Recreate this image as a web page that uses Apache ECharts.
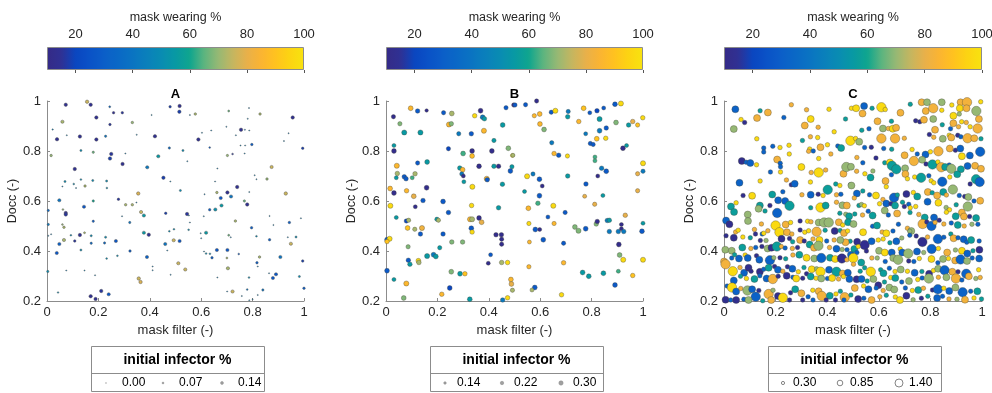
<!DOCTYPE html>
<html>
<head>
<meta charset="utf-8" />
<script src="https://cdn.jsdelivr.net/npm/echarts@6/dist/echarts.min.js"></script>
<style>
html, body, #main { width: 100%; height: 100%; margin: 0; background: #fff; }
</style>
</head>
<body>
<div id="main"></div>
<script>
// each point: [mask filter, Docc, mask wearing %, initial infector %]
var pointsA = [
[0.073,0.985,14,0.13],[0.156,0.997,76,0.13],[0.17,0.985,14,0.13],[0.244,0.977,35,0.05],[0.259,0.953,14,0.08],
[0.293,0.953,16,0.08],[0.192,0.934,14,0.13],[0.407,0.944,50,0.01],[0.479,0.977,18,0.08],[0.06,0.917,72,0.12],
[0.245,0.906,16,0.08],[0.332,0.914,70,0.08],[0.022,0.886,45,0.02],[0.039,0.847,14,0.13],[0.077,0.863,45,0.01],
[0.128,0.858,14,0.13],[0.192,0.846,14,0.13],[0.228,0.859,40,0.07],[0.349,0.865,45,0.01],[0.42,0.859,14,0.13],
[0.476,0.812,35,0.07],[0.016,0.782,70,0.08],[0.132,0.802,50,0.06],[0.18,0.795,66,0.07],[0.25,0.788,16,0.13],
[0.245,0.77,18,0.13],[0.305,0.79,45,0.01],[0.294,0.748,14,0.13],[0.433,0.779,55,0.12],[0.39,0.735,42,0.12],
[0.108,0.728,14,0.13],[0.453,0.693,18,0.13],[0.48,0.678,45,0.01],[0.07,0.678,50,0.06],[0.132,0.686,50,0.04],
[0.104,0.668,50,0.04],[0.113,0.652,45,0.01],[0.148,0.66,72,0.08],[0.178,0.682,50,0.06],[0.232,0.68,50,0.06],
[0.233,0.652,50,0.04],[0.06,0.658,45,0.01],[0.355,0.63,78,0.13],[0.048,0.603,40,0.12],[0.18,0.6,60,0.07],
[0.278,0.607,16,0.08],[0.306,0.585,72,0.08],[0.332,0.585,72,0.08],[0.348,0.594,45,0.01],[0.005,0.562,35,0.07],
[0.062,0.566,70,0.04],[0.073,0.552,14,0.13],[0.073,0.546,16,0.13],[0.144,0.577,27,0.12],[0.366,0.556,75,0.12],
[0.377,0.542,55,0.12],[0.292,0.539,45,0.01],[0.18,0.519,30,0.07],[0.462,0.551,18,0.08],[0.005,0.506,42,0.07],
[0.06,0.506,70,0.04],[0.066,0.495,72,0.08],[0.322,0.514,40,0.07],[0.016,0.467,45,0.01],[0.005,0.461,45,0.01],
[0.048,0.428,32,0.12],[0.066,0.444,72,0.12],[0.093,0.463,50,0.04],[0.108,0.44,16,0.08],[0.128,0.464,14,0.13],
[0.146,0.473,72,0.05],[0.172,0.461,50,0.06],[0.172,0.431,35,0.07],[0.228,0.455,50,0.06],[0.224,0.432,35,0.07],
[0.268,0.44,27,0.12],[0.377,0.473,55,0.12],[0.396,0.465,14,0.13],[0.476,0.479,50,0.04],[0.46,0.428,40,0.12],
[0.493,0.443,76,0.12],[0.038,0.392,27,0.12],[0.132,0.404,50,0.06],[0.323,0.4,30,0.08],[0.468,0.402,45,0.01],
[0.232,0.37,50,0.04],[0.274,0.381,50,0.04],[0.389,0.376,32,0.12],[0.003,0.318,50,0.07],[0.075,0.322,45,0.01],
[0.146,0.322,45,0.01],[0.187,0.303,45,0.01],[0.411,0.338,45,0.01],[0.411,0.323,45,0.01],[0.481,0.305,45,0.01],
[0.357,0.29,76,0.13],[0.364,0.276,78,0.13],[0.043,0.234,50,0.03],[0.17,0.219,14,0.13],[0.189,0.208,14,0.13],
[0.211,0.24,16,0.13],[0.24,0.227,27,0.12],
[0.516,0.98,14,0.13],[0.515,0.957,18,0.13],[0.556,0.944,45,0.01],[0.577,0.948,72,0.08],[0.707,0.96,66,0.05],
[0.786,0.972,45,0.01],[0.829,0.948,72,0.08],[0.956,0.934,14,0.13],[0.781,0.929,45,0.01],[0.698,0.897,45,0.01],
[0.603,0.873,45,0.01],[0.639,0.882,45,0.01],[0.755,0.885,14,0.13],[0.77,0.885,45,0.01],[0.787,0.882,45,0.01],
[0.735,0.863,45,0.01],[0.94,0.871,45,0.01],[0.589,0.846,14,0.13],[0.922,0.84,45,0.01],[0.995,0.811,18,0.08],
[0.633,0.814,30,0.04],[0.753,0.822,45,0.01],[0.771,0.822,45,0.01],[0.797,0.826,30,0.08],[0.529,0.802,50,0.06],
[0.702,0.782,70,0.07],[0.722,0.788,16,0.04],[0.769,0.79,45,0.01],[0.546,0.759,45,0.01],[0.874,0.736,76,0.12],
[0.663,0.73,45,0.01],[0.808,0.703,45,0.01],[0.815,0.687,45,0.01],[0.856,0.688,70,0.08],[0.654,0.678,45,0.01],
[0.74,0.656,14,0.13],[0.519,0.642,50,0.06],[0.613,0.627,45,0.01],[0.661,0.634,72,0.08],[0.702,0.634,14,0.13],
[0.716,0.618,40,0.12],[0.787,0.636,45,0.01],[0.929,0.63,76,0.13],[0.676,0.612,27,0.12],[0.768,0.6,66,0.07],
[0.779,0.586,14,0.13],[0.679,0.582,55,0.12],[0.633,0.565,30,0.08],[0.655,0.566,52,0.12],[0.545,0.548,16,0.13],
[0.552,0.542,45,0.01],[0.61,0.539,45,0.01],[0.866,0.54,45,0.01],[0.733,0.52,72,0.08],[0.943,0.514,30,0.08],
[0.988,0.531,45,0.01],[0.556,0.514,45,0.01],[0.881,0.504,45,0.01],[0.494,0.487,50,0.04],[0.551,0.485,50,0.04],
[0.796,0.493,30,0.08],[0.619,0.473,55,0.12],[0.598,0.471,45,0.01],[0.6,0.451,45,0.01],[0.707,0.463,66,0.05],
[0.715,0.455,45,0.01],[0.815,0.459,50,0.04],[0.866,0.445,30,0.08],[0.937,0.455,45,0.01],[0.969,0.456,50,0.06],
[0.949,0.429,76,0.12],[0.516,0.44,27,0.12],[0.611,0.398,45,0.01],[0.619,0.39,50,0.04],[0.634,0.389,50,0.04],
[0.661,0.404,27,0.12],[0.702,0.404,27,0.12],[0.642,0.373,30,0.08],[0.746,0.388,30,0.04],[0.7,0.372,72,0.05],
[0.511,0.351,76,0.12],[0.538,0.326,76,0.12],[0.827,0.376,72,0.08],[0.817,0.353,30,0.08],[0.82,0.338,45,0.01],
[0.908,0.376,40,0.12],[0.995,0.36,18,0.08],[0.704,0.331,72,0.12],[0.663,0.294,45,0.01],[0.786,0.294,50,0.04],
[0.864,0.311,45,0.01],[0.879,0.292,27,0.12],[0.891,0.307,27,0.12],[0.982,0.298,50,0.06],[0.701,0.238,45,0.01],
[0.722,0.238,76,0.12],[0.779,0.246,40,0.04],[0.84,0.244,40,0.07],[0.758,0.22,45,0.01],[0.8,0.207,45,0.01],
[0.787,0.203,45,0.01],[0.82,0.224,45,0.01],[1.0,0.251,30,0.08]
];

var pointsB = [
[0.029,0.937,12,0.22],[0.096,0.971,86,0.26],[0.123,0.96,28,0.24],[0.158,0.962,12,0.16],[0.224,0.953,28,0.22],
[0.256,0.95,72,0.26],[0.054,0.909,68,0.22],[0.071,0.874,55,0.28],[0.134,0.874,55,0.28],[0.245,0.906,86,0.28],
[0.254,0.909,68,0.24],[0.283,0.869,42,0.22],[0.332,0.869,28,0.24],[0.368,0.961,12,0.26],[0.345,0.941,97,0.24],
[0.376,0.935,42,0.26],[0.383,0.929,55,0.24],[0.381,0.881,86,0.28],[0.42,0.842,55,0.22],[0.454,0.904,55,0.26],
[0.467,0.973,28,0.22],[0.497,0.984,12,0.22],[0.031,0.822,55,0.2],[0.031,0.8,12,0.26],[0.123,0.752,28,0.22],
[0.16,0.756,55,0.26],[0.243,0.809,20,0.22],[0.3,0.79,63,0.26],[0.335,0.8,12,0.26],[0.335,0.78,88,0.26],
[0.412,0.8,12,0.26],[0.476,0.811,68,0.26],[0.492,0.782,97,0.2],[0.042,0.741,86,0.28],[0.044,0.71,72,0.24],
[0.04,0.693,55,0.2],[0.071,0.697,28,0.24],[0.078,0.689,28,0.24],[0.102,0.693,63,0.2],[0.113,0.709,72,0.24],
[0.287,0.732,55,0.24],[0.298,0.725,86,0.26],[0.295,0.708,42,0.22],[0.301,0.7,12,0.2],[0.303,0.677,55,0.2],
[0.362,0.739,12,0.26],[0.392,0.689,86,0.28],[0.394,0.685,28,0.24],[0.42,0.739,55,0.24],[0.438,0.739,12,0.24],
[0.49,0.737,55,0.22],[0.484,0.72,28,0.26],[0.453,0.667,55,0.24],[0.016,0.65,86,0.26],[0.031,0.632,12,0.26],
[0.08,0.641,86,0.24],[0.108,0.619,80,0.26],[0.158,0.653,12,0.26],[0.336,0.657,97,0.28],[0.144,0.602,28,0.24],
[0.114,0.577,12,0.2],[0.222,0.598,28,0.26],[0.017,0.581,97,0.28],[0.04,0.534,55,0.2],[0.243,0.554,28,0.24],
[0.333,0.582,97,0.24],[0.438,0.573,55,0.24],[0.079,0.52,20,0.22],[0.088,0.523,72,0.22],[0.084,0.492,90,0.26],
[0.112,0.487,72,0.22],[0.14,0.492,82,0.28],[0.134,0.468,28,0.24],[0.198,0.527,55,0.22],[0.204,0.523,72,0.22],
[0.222,0.468,28,0.24],[0.327,0.527,86,0.28],[0.335,0.527,72,0.28],[0.332,0.491,28,0.26],[0.335,0.476,97,0.24],
[0.362,0.532,12,0.26],[0.372,0.515,80,0.26],[0.004,0.445,28,0.26],[0.014,0.449,97,0.28],[0.004,0.438,90,0.24],
[0.256,0.436,68,0.24],[0.298,0.436,68,0.24],[0.428,0.465,12,0.24],[0.449,0.465,12,0.24],[0.45,0.447,12,0.22],
[0.45,0.427,12,0.22],[0.086,0.417,68,0.22],[0.209,0.413,55,0.22],[0.087,0.363,28,0.24],[0.093,0.347,55,0.24],
[0.126,0.361,97,0.26],[0.128,0.354,72,0.24],[0.16,0.38,55,0.28],[0.185,0.385,42,0.26],[0.194,0.378,55,0.26],
[0.407,0.385,28,0.2],[0.398,0.351,12,0.2],[0.45,0.354,72,0.24],[0.473,0.354,97,0.24],[0.004,0.321,28,0.26],
[0.031,0.286,55,0.2],[0.079,0.27,86,0.28],[0.254,0.317,68,0.26],[0.288,0.309,55,0.26],[0.307,0.309,90,0.24],
[0.248,0.252,20,0.26],[0.217,0.227,86,0.24],[0.069,0.212,68,0.26],[0.326,0.207,55,0.26],[0.454,0.204,42,0.24],
[0.473,0.213,97,0.24],[0.486,0.286,86,0.26],[0.488,0.268,80,0.26],[0.492,0.243,72,0.22],
[0.502,0.984,28,0.22],[0.543,0.985,28,0.22],[0.586,1.0,12,0.22],[0.891,0.987,28,0.26],[0.914,0.99,97,0.28],
[0.577,0.941,86,0.22],[0.598,0.948,86,0.26],[0.643,0.955,28,0.22],[0.659,0.961,97,0.28],[0.709,0.958,42,0.22],
[0.707,0.937,55,0.24],[0.769,0.971,90,0.26],[0.793,0.953,28,0.2],[0.821,0.961,20,0.24],[0.847,0.972,28,0.2],
[0.599,0.908,86,0.26],[0.615,0.886,68,0.26],[0.75,0.918,86,0.24],[0.831,0.928,55,0.28],[0.895,0.914,68,0.26],
[0.944,0.904,55,0.24],[0.96,0.918,80,0.24],[0.979,0.904,90,0.22],[0.999,0.933,97,0.24],[0.777,0.869,42,0.2],
[0.831,0.881,42,0.26],[0.857,0.892,28,0.24],[0.82,0.849,90,0.26],[0.855,0.851,97,0.24],[0.645,0.833,42,0.22],
[0.795,0.83,28,0.22],[0.806,0.826,28,0.22],[0.922,0.811,12,0.26],[0.936,0.822,55,0.2],[0.494,0.783,72,0.2],
[0.654,0.79,86,0.24],[0.672,0.783,28,0.24],[0.706,0.78,97,0.22],[0.813,0.776,63,0.2],[0.813,0.761,63,0.2],
[1.0,0.751,97,0.28],[0.839,0.731,42,0.24],[0.857,0.719,28,0.26],[1.0,0.719,42,0.22],[0.572,0.708,42,0.22],
[0.549,0.699,97,0.28],[0.597,0.687,28,0.26],[0.707,0.7,55,0.24],[0.824,0.7,12,0.2],[0.979,0.709,80,0.22],
[0.608,0.66,12,0.2],[0.778,0.668,28,0.24],[0.539,0.638,55,0.2],[0.597,0.621,28,0.26],[0.773,0.619,80,0.2],
[0.844,0.622,55,0.2],[0.979,0.641,80,0.22],[0.591,0.591,63,0.24],[0.554,0.571,86,0.26],[0.651,0.581,97,0.28],
[0.697,0.554,28,0.22],[0.812,0.587,80,0.22],[0.63,0.536,28,0.2],[0.931,0.543,80,0.24],[0.556,0.51,97,0.22],
[0.581,0.486,28,0.26],[0.598,0.486,12,0.2],[0.654,0.51,86,0.22],[0.735,0.496,68,0.26],[0.749,0.481,68,0.28],
[0.777,0.489,28,0.26],[0.818,0.508,68,0.24],[0.822,0.518,12,0.24],[0.861,0.522,42,0.24],[0.869,0.523,55,0.24],
[0.869,0.478,42,0.24],[0.904,0.478,42,0.24],[0.916,0.506,12,0.2],[0.916,0.489,12,0.2],[0.925,0.478,42,0.24],
[0.996,0.479,28,0.26],[1.0,0.511,55,0.2],[0.612,0.445,28,0.26],[0.558,0.436,86,0.2],[0.691,0.431,28,0.22],
[0.906,0.426,12,0.26],[0.909,0.384,68,0.26],[0.923,0.365,97,0.28],[1.0,0.365,97,0.28],[0.691,0.353,86,0.24],
[0.556,0.337,86,0.22],[0.765,0.314,55,0.26],[0.789,0.299,55,0.26],[0.846,0.311,55,0.26],[0.904,0.319,63,0.2],
[0.96,0.302,90,0.24],[0.891,0.264,28,0.26],[0.579,0.254,28,0.26],[0.568,0.244,72,0.2],[0.683,0.225,97,0.24]
];

var pointsC = [
[0.044,0.967,32,0.85],[0.14,0.961,57,0.4],[0.17,0.954,83,0.85],[0.261,0.985,83,0.4],[0.32,0.965,83,0.4],
[0.407,0.967,97,0.4],[0.494,0.971,97,0.4],[0.066,0.926,97,0.4],[0.08,0.914,13,0.4],[0.128,0.932,83,0.85],
[0.232,0.934,32,0.4],[0.336,0.928,97,0.85],[0.471,0.928,57,0.4],[0.038,0.888,70,0.85],[0.313,0.902,83,0.85],
[0.365,0.895,83,0.4],[0.427,0.877,97,0.4],[0.127,0.849,97,0.4],[0.304,0.842,57,0.4],[0.335,0.857,83,0.4],
[0.363,0.854,97,0.4],[0.49,0.841,97,1.3],[0.154,0.812,32,0.4],[0.189,0.819,32,0.4],[0.217,0.814,97,0.4],
[0.252,0.823,97,0.4],[0.332,0.808,97,0.4],[0.374,0.815,83,0.85],[0.401,0.825,97,0.4],[0.441,0.82,32,0.4],
[0.454,0.812,57,0.85],[0.154,0.796,32,0.4],[0.253,0.788,97,0.4],[0.328,0.799,83,0.4],[0.346,0.8,32,0.4],
[0.414,0.788,83,0.4],[0.367,0.77,97,0.4],[0.069,0.76,13,0.85],[0.086,0.755,32,0.4],[0.102,0.752,32,0.85],
[0.126,0.745,97,0.4],[0.206,0.766,83,0.85],[0.218,0.751,32,0.4],[0.219,0.737,32,0.4],[0.219,0.716,97,0.4],
[0.3,0.736,97,0.85],[0.18,0.716,32,0.4],[0.14,0.68,97,0.4],[0.06,0.673,32,0.85],[0.367,0.714,97,1.3],
[0.338,0.714,83,0.4],[0.394,0.724,83,0.4],[0.463,0.709,83,0.85],[0.474,0.736,70,1.3],[0.492,0.737,70,0.85],
[0.242,0.684,83,0.4],[0.261,0.665,13,0.4],[0.274,0.669,32,0.85],[0.335,0.676,97,0.4],[0.433,0.668,57,0.4],
[0.449,0.662,97,0.4],[0.49,0.665,32,0.4],[0.402,0.645,57,1.3],[0.384,0.622,97,0.4],[0.365,0.627,13,0.4],
[0.109,0.621,97,0.85],[0.187,0.626,57,0.85],[0.228,0.637,32,0.4],[0.302,0.625,83,0.4],[0.336,0.625,32,0.85],
[0.436,0.625,83,0.4],[0.453,0.627,32,0.4],[0.074,0.622,13,0.4],[0.047,0.593,97,0.4],[0.027,0.578,57,0.85],
[0.039,0.556,57,0.85],[0.139,0.582,57,0.85],[0.134,0.569,70,0.85],[0.178,0.582,13,0.4],[0.21,0.603,32,0.85],
[0.237,0.6,32,0.85],[0.254,0.581,57,1.3],[0.206,0.552,32,1.3],[0.159,0.56,57,0.4],[0.092,0.546,70,0.85],
[0.336,0.573,57,0.4],[0.374,0.574,97,1.3],[0.394,0.582,57,0.85],[0.436,0.595,83,0.4],[0.459,0.583,70,0.85],
[0.476,0.582,83,0.85],[0.449,0.551,57,0.4],[0.472,0.547,70,0.4],[0.485,0.539,57,0.85],[0.008,0.522,32,0.85],
[0.021,0.507,13,0.85],[0.093,0.52,70,0.85],[0.145,0.508,83,0.4],[0.118,0.486,83,0.4],[0.2,0.502,97,1.3],
[0.239,0.506,83,0.85],[0.258,0.514,97,0.4],[0.295,0.52,13,0.4],[0.324,0.519,97,0.4],[0.337,0.517,83,0.4],
[0.367,0.514,70,0.85],[0.388,0.514,70,1.3],[0.406,0.514,70,1.3],[0.445,0.515,83,0.85],[0.46,0.504,97,0.4],
[0.481,0.515,57,0.85],[0.045,0.476,83,0.4],[0.055,0.483,97,0.4],[0.038,0.453,13,0.85],[0.008,0.461,13,0.4],
[0.073,0.456,97,0.4],[0.102,0.453,57,0.4],[0.122,0.468,13,0.4],[0.148,0.468,32,0.4],[0.154,0.471,97,0.4],
[0.17,0.481,83,0.4],[0.215,0.475,97,1.3],[0.244,0.475,83,0.85],[0.263,0.468,83,0.4],[0.295,0.484,13,0.4],
[0.313,0.475,97,0.4],[0.328,0.481,97,0.4],[0.359,0.477,83,1.3],[0.392,0.483,57,0.4],[0.429,0.48,13,0.85],
[0.45,0.482,57,0.4],[0.465,0.472,83,0.85],[0.479,0.48,97,0.4],[0.489,0.439,57,0.4],[0.471,0.435,83,0.85],
[0.141,0.442,13,0.4],[0.163,0.442,70,0.4],[0.223,0.449,13,0.85],[0.254,0.45,13,0.4],[0.266,0.437,57,0.4],
[0.295,0.444,83,0.85],[0.311,0.44,13,0.4],[0.345,0.448,83,0.4],[0.37,0.444,97,0.85],[0.398,0.44,32,0.4],
[0.427,0.444,83,0.4],[0.451,0.444,70,0.85],[0.005,0.405,70,0.85],[0.03,0.401,70,0.85],[0.071,0.414,57,0.85],
[0.104,0.41,83,0.4],[0.123,0.414,32,0.4],[0.147,0.418,13,0.4],[0.169,0.41,70,0.85],[0.184,0.413,13,0.85],
[0.205,0.418,57,1.3],[0.222,0.418,83,0.4],[0.237,0.412,32,0.4],[0.265,0.41,83,0.4],[0.285,0.414,13,0.4],
[0.332,0.426,57,0.85],[0.349,0.413,83,0.85],[0.366,0.421,70,1.3],[0.409,0.414,83,0.4],[0.436,0.409,32,0.85],
[0.458,0.406,70,0.4],[0.477,0.405,32,0.4],[0.03,0.372,32,0.4],[0.041,0.385,57,0.4],[0.0,0.358,83,0.85],
[0.006,0.347,83,1.3],[0.058,0.37,32,0.85],[0.082,0.384,97,0.4],[0.092,0.372,32,0.85],[0.126,0.381,13,0.4],
[0.137,0.365,32,0.85],[0.178,0.363,32,1.3],[0.193,0.373,70,0.4],[0.217,0.373,13,0.4],[0.239,0.369,57,0.4],
[0.267,0.384,83,0.4],[0.292,0.385,57,0.85],[0.32,0.373,97,0.85],[0.35,0.37,70,0.85],[0.377,0.372,32,1.3],
[0.411,0.373,57,0.85],[0.431,0.368,97,0.85],[0.457,0.37,13,1.3],[0.476,0.365,83,0.4],[0.492,0.385,32,0.85],
[0.034,0.319,97,1.3],[0.062,0.334,83,0.4],[0.078,0.313,32,0.85],[0.095,0.333,13,0.85],[0.105,0.319,13,0.4],
[0.139,0.317,13,0.85],[0.154,0.327,32,0.4],[0.173,0.333,57,0.85],[0.196,0.338,13,0.4],[0.209,0.325,32,0.85],
[0.228,0.319,83,0.4],[0.246,0.337,13,0.4],[0.265,0.329,32,0.85],[0.288,0.317,97,0.4],[0.31,0.334,57,0.4],
[0.32,0.309,13,0.4],[0.34,0.327,97,0.85],[0.359,0.329,70,0.4],[0.374,0.317,97,1.3],[0.407,0.325,32,0.85],
[0.436,0.317,57,1.3],[0.46,0.31,83,0.85],[0.48,0.313,32,0.85],[0.038,0.282,32,0.85],[0.064,0.299,57,0.4],
[0.087,0.29,97,0.4],[0.118,0.288,57,0.85],[0.139,0.301,32,0.4],[0.165,0.29,32,0.85],[0.189,0.288,83,1.3],
[0.21,0.299,13,0.4],[0.243,0.301,13,0.85],[0.267,0.295,32,0.4],[0.28,0.29,97,0.85],[0.305,0.291,13,0.4],
[0.336,0.298,57,0.85],[0.357,0.291,97,0.4],[0.377,0.29,70,0.85],[0.401,0.29,32,0.4],[0.419,0.292,97,0.85],
[0.444,0.288,83,0.4],[0.463,0.298,97,0.4],[0.486,0.288,32,0.85],[0.012,0.26,32,0.4],[0.031,0.254,97,1.3],
[0.047,0.238,32,0.85],[0.065,0.25,83,0.4],[0.091,0.242,70,1.3],[0.109,0.247,32,0.85],[0.123,0.217,32,1.3],
[0.135,0.242,13,0.4],[0.173,0.228,83,1.3],[0.19,0.243,70,0.4],[0.209,0.22,13,0.85],[0.228,0.213,97,1.3],
[0.258,0.233,13,0.4],[0.276,0.247,57,0.85],[0.3,0.231,83,0.85],[0.326,0.217,32,0.4],[0.344,0.243,97,0.4],
[0.367,0.239,83,0.85],[0.379,0.22,83,1.3],[0.41,0.221,57,0.85],[0.434,0.228,97,0.4],[0.451,0.239,57,0.4],
[0.468,0.215,83,1.3],[0.492,0.224,57,0.4],[0.006,0.205,13,0.85],[0.026,0.204,32,0.4],[0.047,0.204,13,0.85],
[0.077,0.207,32,0.4],[0.095,0.204,70,0.85],[0.15,0.201,57,0.4],[0.183,0.204,83,0.85],[0.254,0.204,13,0.4],
[0.305,0.204,13,0.4],[0.345,0.204,32,0.4],[0.396,0.204,13,0.4],[0.432,0.204,13,0.4],[0.465,0.204,32,0.4],
[0.512,0.971,97,0.85],[0.543,0.98,32,0.85],[0.574,0.971,57,0.4],[0.61,0.975,97,1.3],[0.625,0.966,97,0.4],
[0.537,0.95,83,0.85],[0.595,0.919,83,0.85],[0.649,0.919,57,0.4],[0.684,0.953,83,0.85],[0.722,0.987,57,0.4],
[0.766,0.995,83,0.85],[0.787,0.995,70,0.85],[0.782,0.96,83,0.85],[0.811,0.971,83,1.3],[0.844,0.995,70,0.85],
[0.844,0.963,97,0.4],[0.883,0.984,97,0.4],[0.917,0.995,83,0.85],[0.942,0.995,83,1.3],[0.995,0.997,97,0.4],
[0.914,0.971,97,0.85],[0.94,0.971,83,0.85],[0.912,0.948,70,0.4],[0.889,0.941,97,0.85],[0.978,0.96,70,1.3],
[0.743,0.921,13,0.4],[0.759,0.917,13,0.4],[0.775,0.925,83,0.85],[0.811,0.928,70,0.85],[0.846,0.905,57,0.4],
[0.818,0.885,83,0.85],[0.878,0.889,32,0.4],[0.889,0.911,83,0.85],[0.921,0.917,97,0.4],[0.939,0.914,83,0.4],
[0.988,0.928,83,0.85],[0.983,0.89,83,1.3],[0.954,0.897,97,0.4],[0.909,0.897,83,0.4],[0.534,0.883,57,0.4],
[0.562,0.889,32,0.4],[0.616,0.89,70,0.85],[0.637,0.89,83,0.4],[0.654,0.889,97,0.85],[0.667,0.893,83,0.85],
[0.51,0.85,97,0.4],[0.524,0.837,70,0.85],[0.545,0.814,32,0.4],[0.571,0.815,13,0.4],[0.61,0.85,83,1.3],
[0.663,0.85,83,1.3],[0.699,0.851,83,0.4],[0.796,0.866,13,0.4],[0.813,0.855,83,0.4],[0.848,0.849,70,0.85],
[0.873,0.863,97,0.4],[0.881,0.854,83,0.85],[0.906,0.863,13,0.4],[0.918,0.857,32,0.4],[0.944,0.851,83,1.3],
[0.97,0.851,83,0.85],[0.996,0.849,57,0.4],[0.619,0.81,32,0.4],[0.65,0.807,57,0.4],[0.7,0.783,83,0.85],
[0.729,0.806,97,0.4],[0.749,0.788,32,0.4],[0.781,0.786,32,0.85],[0.8,0.797,97,0.4],[0.831,0.799,83,1.3],
[0.875,0.81,83,0.85],[0.897,0.803,13,0.4],[0.916,0.81,32,0.85],[0.922,0.779,97,0.85],[0.953,0.782,32,0.85],
[0.993,0.797,32,1.3],[0.515,0.774,83,0.4],[0.538,0.753,32,0.4],[0.589,0.772,13,0.4],[0.623,0.753,57,0.4],
[0.643,0.754,97,0.85],[0.651,0.741,57,1.3],[0.668,0.727,57,1.3],[0.702,0.731,70,0.85],[0.736,0.76,83,1.3],
[0.768,0.765,70,0.85],[0.783,0.748,13,0.4],[0.808,0.746,57,1.3],[0.829,0.756,97,0.4],[0.873,0.744,32,0.4],
[0.842,0.735,83,1.3],[0.857,0.736,57,0.85],[0.881,0.729,70,1.3],[0.918,0.727,57,0.85],[0.944,0.74,32,0.85],
[0.973,0.741,83,0.85],[0.996,0.729,83,0.85],[0.514,0.719,83,0.4],[0.546,0.709,97,0.4],[0.568,0.694,57,0.85],
[0.577,0.72,70,0.4],[0.626,0.68,83,0.85],[0.649,0.705,32,0.4],[0.703,0.708,83,0.85],[0.711,0.689,97,0.4],
[0.739,0.696,97,0.4],[0.764,0.693,57,1.3],[0.794,0.701,32,0.4],[0.803,0.681,97,0.4],[0.813,0.673,97,0.4],
[0.846,0.677,32,1.3],[0.875,0.696,97,0.4],[0.904,0.707,57,0.85],[0.954,0.668,13,0.4],[0.977,0.687,57,1.3],
[0.991,0.676,32,1.3],[0.494,0.662,70,0.85],[0.515,0.63,32,0.85],[0.538,0.64,57,0.4],[0.564,0.625,32,0.4],
[0.589,0.622,97,0.85],[0.629,0.657,97,0.4],[0.659,0.613,32,1.3],[0.672,0.624,57,0.4],[0.707,0.628,13,0.85],
[0.734,0.634,97,0.4],[0.749,0.618,57,0.85],[0.79,0.636,83,0.85],[0.807,0.633,57,0.4],[0.826,0.622,83,0.85],
[0.85,0.636,57,0.85],[0.862,0.624,83,0.4],[0.887,0.646,70,1.3],[0.912,0.622,32,0.4],[0.933,0.618,13,0.4],
[0.947,0.616,70,0.85],[0.969,0.6,32,0.4],[0.993,0.601,83,0.85],[0.505,0.612,83,0.4],[0.523,0.582,57,0.4],
[0.533,0.586,70,0.4],[0.544,0.581,97,0.4],[0.603,0.589,97,0.4],[0.616,0.606,83,0.4],[0.629,0.59,32,0.85],
[0.647,0.589,13,0.4],[0.663,0.582,57,0.85],[0.692,0.595,57,0.4],[0.716,0.587,32,0.4],[0.722,0.573,97,0.4],
[0.743,0.578,97,0.4],[0.789,0.597,32,0.85],[0.831,0.593,97,0.85],[0.861,0.574,70,0.4],[0.874,0.565,97,0.4],
[0.9,0.585,57,0.4],[0.922,0.554,83,0.85],[0.945,0.578,70,1.3],[0.507,0.548,57,0.4],[0.537,0.544,83,0.4],
[0.559,0.559,32,0.4],[0.576,0.542,57,0.85],[0.623,0.562,70,0.85],[0.637,0.544,32,0.4],[0.671,0.55,83,0.85],
[0.699,0.578,13,0.4],[0.721,0.554,57,0.4],[0.755,0.546,83,0.4],[0.778,0.534,57,0.85],[0.814,0.534,32,0.85],
[0.834,0.523,13,0.4],[0.862,0.555,97,0.4],[0.898,0.539,57,0.85],[0.93,0.538,83,0.85],[0.952,0.538,13,0.4],
[0.977,0.532,57,0.85],[0.502,0.508,70,0.85],[0.539,0.475,97,0.85],[0.576,0.499,32,0.4],[0.593,0.502,57,0.85],
[0.613,0.476,83,0.4],[0.629,0.471,97,0.85],[0.655,0.48,32,0.4],[0.676,0.507,32,0.4],[0.711,0.491,83,0.4],
[0.726,0.48,70,0.85],[0.77,0.508,83,1.3],[0.786,0.516,13,0.4],[0.804,0.5,32,1.3],[0.818,0.514,83,0.4],
[0.852,0.508,83,0.4],[0.881,0.512,32,0.4],[0.906,0.504,57,0.85],[0.931,0.5,83,0.4],[0.961,0.507,70,0.4],
[0.984,0.507,32,0.4],[0.516,0.437,13,0.85],[0.545,0.424,13,1.3],[0.572,0.439,32,0.85],[0.598,0.444,97,0.4],
[0.617,0.448,97,0.4],[0.643,0.433,57,0.4],[0.668,0.439,32,0.85],[0.689,0.452,70,0.4],[0.72,0.479,70,0.4],
[0.72,0.463,32,0.4],[0.745,0.46,13,0.4],[0.769,0.436,13,1.3],[0.789,0.456,83,0.4],[0.829,0.448,32,1.3],
[0.852,0.455,32,0.4],[0.879,0.468,57,0.4],[0.89,0.451,83,0.85],[0.907,0.453,32,0.4],[0.929,0.447,32,0.85],
[0.941,0.435,32,0.4],[0.958,0.444,57,0.85],[0.989,0.44,32,0.4],[0.505,0.408,57,0.85],[0.515,0.394,32,0.4],
[0.52,0.418,97,0.4],[0.552,0.4,13,0.4],[0.601,0.401,70,0.85],[0.623,0.394,97,0.85],[0.65,0.394,32,0.85],
[0.683,0.408,97,0.4],[0.691,0.394,32,0.85],[0.714,0.39,70,1.3],[0.748,0.398,32,0.85],[0.774,0.394,70,0.4],
[0.805,0.408,32,1.3],[0.831,0.41,97,0.4],[0.865,0.394,83,0.85],[0.897,0.404,70,0.4],[0.922,0.401,97,0.85],
[0.943,0.39,32,0.85],[0.965,0.401,57,0.4],[0.99,0.405,13,0.85],[0.501,0.372,97,1.3],[0.532,0.354,57,0.85],
[0.573,0.372,83,0.4],[0.594,0.372,70,0.4],[0.625,0.358,32,0.4],[0.656,0.372,70,0.85],[0.675,0.365,70,1.3],
[0.716,0.36,13,0.4],[0.736,0.358,32,0.4],[0.757,0.37,97,0.4],[0.804,0.368,97,0.85],[0.829,0.353,32,0.4],
[0.849,0.368,70,0.85],[0.87,0.37,97,0.4],[0.896,0.362,83,0.85],[0.917,0.366,32,1.3],[0.942,0.36,70,0.85],
[0.962,0.372,32,0.4],[0.989,0.37,32,0.85],[0.502,0.347,83,0.4],[0.528,0.319,57,0.4],[0.545,0.333,57,0.4],
[0.569,0.317,97,1.3],[0.607,0.325,57,0.4],[0.618,0.311,57,0.85],[0.641,0.331,32,0.4],[0.663,0.318,97,0.4],
[0.685,0.326,70,0.85],[0.711,0.319,97,0.4],[0.739,0.313,32,0.85],[0.767,0.318,57,0.4],[0.795,0.309,13,0.85],
[0.812,0.322,97,0.4],[0.83,0.329,70,0.85],[0.855,0.323,32,1.3],[0.885,0.317,83,0.85],[0.907,0.317,13,0.4],
[0.939,0.309,32,1.3],[0.987,0.325,97,0.4],[0.514,0.287,13,0.85],[0.533,0.288,32,0.85],[0.555,0.28,57,0.4],
[0.579,0.288,70,0.85],[0.598,0.263,13,0.85],[0.622,0.276,57,0.4],[0.646,0.294,97,0.4],[0.664,0.292,57,0.85],
[0.689,0.276,32,0.4],[0.717,0.28,70,0.85],[0.751,0.286,97,0.4],[0.768,0.292,32,0.4],[0.794,0.29,70,1.3],
[0.831,0.295,83,0.4],[0.862,0.295,70,0.85],[0.899,0.29,83,1.3],[0.922,0.284,32,0.4],[0.949,0.299,83,0.85],
[0.976,0.29,70,0.4],[0.993,0.294,83,0.4],[0.507,0.252,83,0.85],[0.541,0.26,97,0.4],[0.56,0.247,32,0.85],
[0.59,0.252,32,0.4],[0.617,0.242,83,0.4],[0.641,0.254,70,0.85],[0.66,0.246,70,0.85],[0.703,0.252,32,0.4],
[0.73,0.242,97,0.4],[0.753,0.244,57,0.85],[0.773,0.251,83,0.4],[0.808,0.244,13,0.4],[0.829,0.247,32,1.3],
[0.852,0.251,97,0.4],[0.873,0.24,32,0.85],[0.897,0.254,70,0.85],[0.925,0.235,32,1.3],[0.956,0.239,32,0.4],
[0.982,0.239,57,0.85],[0.52,0.208,13,0.85],[0.542,0.211,32,0.4],[0.572,0.204,83,0.85],[0.604,0.217,83,0.4],
[0.629,0.223,57,0.4],[0.664,0.216,97,0.4],[0.682,0.204,97,0.85],[0.707,0.221,13,0.85],[0.733,0.205,70,0.4],
[0.765,0.211,13,0.4],[0.79,0.219,57,0.4],[0.826,0.212,32,0.85],[0.847,0.219,32,0.4],[0.872,0.208,83,0.4],
[0.903,0.207,70,0.4],[0.934,0.205,83,0.85],[0.969,0.212,97,0.4],[0.998,0.208,57,0.4]
];

var panelNames = ['A', 'B', 'C'];
var legendValues = [[0.00, 0.07, 0.14], [0.14, 0.22, 0.30], [0.30, 0.85, 1.40]];
var wearingTicks = [20, 40, 60, 80, 100];

var FONT = '"Liberation Sans", Arial, sans-serif';
var parula = ['#352a87','#2f3193','#0a46c0','#0a52c7','#0b5ec8','#0a69c6','#0a74c2','#0a80bb','#098cb2','#0899a3',
              '#0fa58e','#5cb47f','#96b874','#c4b660','#e8b04a','#fbb432','#ffc21f','#fcd412','#f8e30f'];

function sizeA(s) { return 1.0 + 2.6 * s / 0.14; }
function sizeB(s) { return 3.2 + 2.2 * (s - 0.14) / 0.16; }
function sizeC(s) { return 4 + 6 * (s - 0.3) / 1.1; }
var sizeFns = [sizeA, sizeB, sizeC];
var edgeStyles = [
  { borderColor: 'rgba(80,80,80,0.75)', borderWidth: 0.6 },
  { borderColor: 'rgba(70,70,60,0.6)', borderWidth: 0.6 },
  { borderColor: 'rgba(70,70,60,0.6)', borderWidth: 0.6 }
];

var gridLefts = [47, 386, 724];
var gridWidths = [257, 257, 258];
var plotTop = 101, plotH = 200;

var chart = echarts.init(document.getElementById('main'));

var grids = [], xAxes = [], yAxes = [], series = [], visualMaps = [], graphics = [];
var allPoints = [pointsA, pointsB, pointsC];

for (var i = 0; i < 3; i++) {
  var L = gridLefts[i], W = gridWidths[i];
  grids.push({ left: L, top: plotTop, width: W, height: plotH, outerBoundsMode: 'none' });
  xAxes.push({
    type: 'value', gridIndex: i, min: 0, max: 1, interval: 0.2,
    name: 'mask filter (-)', nameLocation: 'middle', nameGap: 19,
    nameTextStyle: { color: '#262626', fontSize: 13, fontFamily: FONT },
    axisLine: { lineStyle: { color: '#8c8c8c', width: 1 } },
    axisTick: { inside: true, length: 3, lineStyle: { color: '#8c8c8c' } },
    axisLabel: { color: '#262626', fontSize: 13, fontFamily: FONT, margin: 5 },
    splitLine: { show: false }
  });
  yAxes.push({
    type: 'value', gridIndex: i, min: 0.2, max: 1, interval: 0.2,
    name: 'Docc (-)', nameLocation: 'middle', nameGap: 28,
    nameTextStyle: { color: '#262626', fontSize: 12.5, fontFamily: FONT },
    axisLine: { show: true, lineStyle: { color: '#8c8c8c', width: 1 } },
    axisTick: { show: true, inside: true, length: 3, lineStyle: { color: '#8c8c8c' } },
    axisLabel: { color: '#262626', fontSize: 13, fontFamily: FONT, margin: 6 },
    splitLine: { show: false }
  });
  (function (fn, edge) {
    series.push({
      type: 'scatter', xAxisIndex: i, yAxisIndex: i, data: allPoints[i],
      symbol: 'circle',
      symbolSize: function (v) { return fn(v[3]); },
      itemStyle: { borderColor: edge.borderColor, borderWidth: edge.borderWidth, opacity: 1 },
      silent: true, animation: false
    });
  })(sizeFns[i], edgeStyles[i]);
  visualMaps.push({
    type: 'continuous', seriesIndex: i, dimension: 2, min: 10, max: 100,
    orient: 'horizontal', left: L, top: 47, itemWidth: 23, itemHeight: W,
    calculable: false, hoverLink: false, padding: 0, text: null,
    inRange: { color: parula }
  });
}

// colorbar scale axes sitting on top of each colour bar
var textGaps = [16, 12, 10];
var markerX = [15, 72, 131];
for (var j = 0; j < 3; j++) {
  grids.push({ left: gridLefts[j], top: 47, width: gridWidths[j], height: 23, outerBoundsMode: 'none' });
  xAxes.push({
    type: 'value', gridIndex: 3 + j, position: 'top', min: 10, max: 100,
    name: 'mask wearing %', nameLocation: 'middle', nameGap: 23,
    nameTextStyle: { color: '#262626', fontSize: 12.5, fontFamily: FONT },
    axisLine: { show: false },
    axisTick: { show: true, inside: true, length: 3, customValues: wearingTicks, lineStyle: { color: '#555' } },
    axisLabel: { color: '#262626', fontSize: 13, fontFamily: FONT, margin: 6, customValues: wearingTicks },
    splitLine: { show: false }
  });
  yAxes.push({ type: 'value', gridIndex: 3 + j, min: 0, max: 1, show: false });

  var L2 = gridLefts[j], W2 = gridWidths[j];
  graphics.push({
    type: 'rect', z: 100, silent: true,
    shape: { x: L2 + 0.5, y: 47.5, width: W2 - 1, height: 22 },
    style: { fill: null, stroke: '#8c8c8c', lineWidth: 1 }
  });
  graphics.push({
    type: 'text', z: 100, x: L2 + W2 / 2, y: 94,
    style: { text: panelNames[j], font: 'bold 13px ' + FONT, fill: '#000', align: 'center', verticalAlign: 'middle', textAlign: 'center', textVerticalAlign: 'middle' }
  });

  // legend box
  var bx = L2 + 44, by = 346, bw = 173, bh = 45;
  graphics.push({ type: 'rect', z: 100, shape: { x: bx + 0.5, y: by + 0.5, width: bw, height: bh }, style: { fill: '#fff', stroke: '#8c8c8c', lineWidth: 1 } });
  graphics.push({ type: 'line', z: 101, shape: { x1: bx, y1: 373.5, x2: bx + bw, y2: 373.5 }, style: { stroke: '#8c8c8c', lineWidth: 1 } });
  graphics.push({
    type: 'text', z: 101, x: bx + bw / 2, y: 360,
    style: { text: 'initial infector %', font: 'bold 14px ' + FONT, fill: '#000', align: 'center', verticalAlign: 'middle', textAlign: 'center', textVerticalAlign: 'middle' }
  });
  for (var k = 0; k < 3; k++) {
    var d = sizeFns[j](legendValues[j][k]) * 0.8;
    graphics.push({
      type: 'circle', z: 101, shape: { cx: bx + markerX[k], cy: 383, r: d / 2 },
      style: j === 2 ? { fill: 'none', stroke: '#666', lineWidth: 0.8 } : { fill: '#a0a0a0', stroke: '#888', lineWidth: 0.5 }
    });
    graphics.push({
      type: 'text', z: 101, x: bx + markerX[k] + textGaps[j], y: 383,
      style: { text: legendValues[j][k].toFixed(2), font: '12px ' + FONT, fill: '#000', align: 'left', verticalAlign: 'middle', textAlign: 'left', textVerticalAlign: 'middle' }
    });
  }
}

chart.setOption({
  backgroundColor: '#fff',
  animation: false,
  grid: grids,
  xAxis: xAxes,
  yAxis: yAxes,
  visualMap: visualMaps,
  series: series,
  graphic: { elements: graphics }
});

window.onresize = function () { chart.resize(); };
</script>
</body>
</html>
